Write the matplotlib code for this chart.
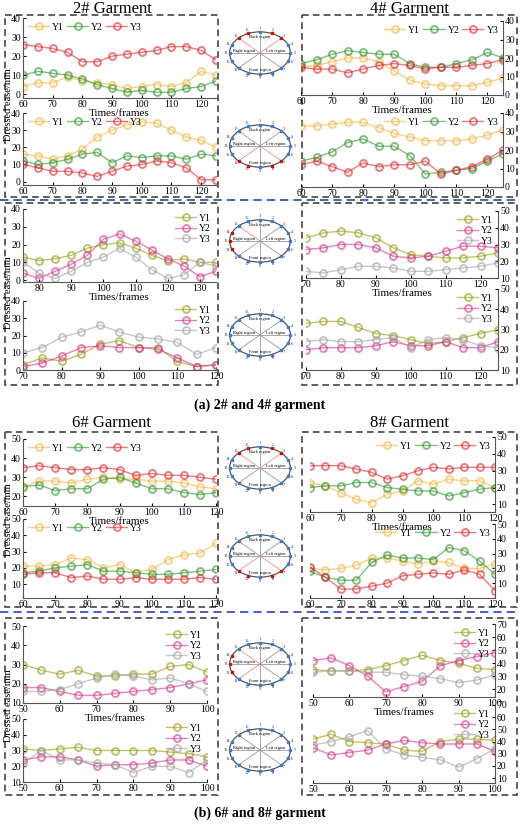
import numpy as np
import matplotlib
matplotlib.use("Agg")
import matplotlib.pyplot as plt
from matplotlib.patches import Rectangle, Ellipse

plt.rcParams['font.family'] = ['Liberation Serif', 'DejaVu Serif']

W, H = 520, 824
fig = plt.figure(figsize=(W/100, H/100), dpi=100)

def ax_px(x0, y0, x1, y1, **kw):
    return fig.add_axes([x0/W, 1-y1/H, (x1-x0)/W, (y1-y0)/H], **kw)

# ---------------- data ----------------
labels = ["Y1", "Y2", "Y3"]
col_a = ["#F2B540", "#2E962E", "#E0262C"]
col_b = ["#9A9A16", "#D8338A", "#A3A3A3"]

g2_top_x = np.arange(60, 126, 5)
g2_top = [[4,6,6,9,7,6,5,3,4,5,4,6,12,10],
          [10,12,11,10,8,5,3,1,2,1,1,3,4,7],
          [26,25,24,22,17,17,20,21,22,23,25,25,23,18]]
g2_bot = [[16,15,13,15,19,26,30,33,35,34,30,26,24,20],
          [12,10,11,13,16,17,11,15,14,15,15,13,16,15],
          [10,8,6,6,5,3,6,9,10,12,11,8,1,1]]
g4_top = [[15,16,18,20,20,18,13,8,6,5,5,5,7,9],
          [17,19,22,24,23,22,22,17,15,15,17,19,23,20],
          [15,14,14,12,14,16,17,16,14,15,15,16,17,19]]
g4_bot = [[33,33,34,35,35,32,29,27,25,25,25,26,28,31],
          [14,16,19,24,26,22,22,17,7,8,9,10,14,18],
          [12,14,11,8,13,11,12,12,14,7,9,11,15,20]]
g2b_top_x = np.arange(75, 136, 5)
g2b_top = [[13,11,12,14,18,20,21,18,14,11,12,10,10],
           [4,1,5,9,14,23,26,22,17,12,8,2,5],
           [10,4,1,5,10,13,18,13,6,1,3,10,8]]
g2b_bot_x = np.arange(70, 121, 5)
g2b_bot = [[3,7,5,9,15,17,13,13,5,2,3],
           [2,4,8,13,14,13,13,12,7,2,3],
           [10,13,19,22,26,22,19,18,16,9,13]]
g4b_x = np.arange(70, 126, 5)
g4b_top = [[34,37,38,37,34,28,24,23,22,22,23,25],
           [27,28,30,30,28,23,22,23,26,29,29,28],
           [14,13,15,17,17,16,14,14,15,16,17,19]]
g4b_bot = [[33,34,34,31,28,27,25,23,24,26,28,30],
           [20,21,21,21,22,24,22,22,24,21,21,24],
           [24,25,24,24,25,26,21,25,26,25,22,21]]
g6_x = np.arange(60, 121, 5)
g6_top = [[25,28,28,27,29,30,29,29,28,28,27,25,24],
          [25,26,23,24,24,29,30,27,24,24,22,21,22],
          [35,36,35,34,34,35,34,31,32,31,31,30,29]]
g6_bot = [[21,21,22,26,25,20,22,17,19,25,28,29,35],
          [17,18,20,21,22,18,18,17,16,16,17,18,19],
          [16,17,17,14,15,13,13,14,13,13,13,14,13]]
g8_top = [[23,21,17,13,11,16,18,24,22,25,24,24,20],
          [20,21,21,23,23,20,19,18,18,15,17,19,20],
          [33,33,33,31,29,25,27,30,32,31,32,32,32]]
g8_bot = [[20,19,20,22,27,27,25,23,25,24,20,20,23],
          [18,14,12,12,24,29,27,27,26,34,32,25,16],
          [21,14,6,6,8,10,15,16,17,16,19,16,5]]
g6b_x = np.arange(50, 101, 5)
g6b_top = [[30,27,25,27,24,24,25,25,29,30,26],
           [18,18,16,14,14,15,16,17,18,20,22],
           [16,16,17,20,23,25,24,22,23,20,16]]
g6b_bot = [[31,30,31,32,30,30,30,30,29,28,26],
           [24,26,26,24,20,21,21,22,24,24,20],
           [22,30,24,24,22,21,16,20,20,16,24]]
g8b_top = [[35,34,34,35,38,42,46,42,40,36,35],
           [42,44,38,30,18,22,26,38,42,45,48],
           [33,34,34,33,33,31,30,28,25,27,31]]
g8b_bot = [[42,46,40,39,38,33,32,40,42,42,41],
           [35,29,31,33,38,41,39,38,38,38,32],
           [37,40,44,49,34,29,27,25,19,26,34]]

# ---------------- helpers ----------------
def panel(box, x, ys, cols, xlim, ylim, yticks, right=False, leg='h', legloc='upper left', xlabel=False):
    ax = ax_px(*box)
    for y, c, l in zip(ys, cols, labels):
        ax.plot(x, y, '-', color=c, lw=1.0, alpha=0.6, marker='o', ms=5,
                mfc='none', mec=c, mew=1.4, label=l)
    ax.set_xlim(*xlim); ax.set_ylim(*ylim)
    ax.set_yticks(yticks)
    ax.set_xticks(np.arange(int(np.ceil(xlim[0]/10))*10, xlim[1]+1, 10))
    ax.patch.set_alpha(0)
    ax.spines['top'].set_visible(False)
    if right:
        ax.spines['left'].set_visible(False)
        ax.yaxis.tick_right()
    else:
        ax.spines['right'].set_visible(False)
    for s in ax.spines.values():
        s.set_color('#555555'); s.set_linewidth(0.8)
    ax.tick_params(labelsize=7, length=2, direction='in', pad=1.5)
    if leg == 'h':
        ax.legend(loc=legloc, ncol=3, fontsize=7, frameon=False, handlelength=2.2,
                  columnspacing=0.3, handletextpad=0.3, borderaxespad=0.1)
    else:
        ax.legend(loc=legloc, ncol=1, fontsize=7, frameon=False, handlelength=2.2,
                  handletextpad=0.3, labelspacing=0.15, borderaxespad=0.1)
    if xlabel:
        ax.set_xlabel("Times/frames", fontsize=8, labelpad=0)
    return ax

bg = fig.add_axes([0, 0, 1, 1]); bg.set_xlim(0, W); bg.set_ylim(H, 0); bg.axis('off')

def dbox(x0, y0, x1, y1):
    bg.add_patch(Rectangle((x0, y0), x1-x0, y1-y0, fill=False, ls=(0, (4, 2.5)), lw=1.2, ec='#444444'))

for b in [(5,15,218,197),(302,15,517,197),(5,203,218,385),(302,203,517,385),
          (5,432,218,607),(302,432,517,607),(5,618,218,795),(302,618,517,795)]:
    dbox(*b)
for yy in (200, 612):
    bg.plot([0, 520], [yy, yy], color='#2A3FC8', ls=(0, (5, 3)), lw=1.2)

for t, x, y in [("2# Garment", 112, 9), ("4# Garment", 410, 9), ("6# Garment", 112, 423), ("8# Garment", 410, 423)]:
    bg.text(x, y, t, ha='center', va='center', fontsize=12)
bg.text(260, 405, "(a) 2# and 4# garment", ha='center', va='center', fontsize=10, fontweight='bold')
bg.text(260, 813, "(b) 6# and 8# garment", ha='center', va='center', fontsize=10, fontweight='bold')
for y in (105, 293, 520, 706):
    bg.text(9, y, "Dressed ease/mm", rotation=90, ha='center', va='center', fontsize=7.5)

# ---------------- panels ----------------
panel((23,18,216,98), g2_top_x, g2_top, col_a, (60,125), (-2,40), range(0,41,10), xlabel=True)
panel((23,113,216,185), g2_top_x, g2_bot, col_a, (60,125), (-2,40), range(0,41,10))
panel((301,21,503,95), g2_top_x, g4_top, col_a, (60,125), (0,40), range(0,41,10), right=True, legloc='upper right', xlabel=True)
panel((301,113,503,187), g2_top_x, g4_bot, col_a, (60,125), (0,40), range(0,41,10), right=True, legloc='upper right')

panel((23,209,216,282), g2b_top_x, g2b_top, col_b, (75,135), (-1,40), range(0,41,10), leg='v', legloc='upper right', xlabel=True)
panel((23,301,216,370), g2b_bot_x, g2b_bot, col_b, (70,120), (0,40), range(0,41,10), leg='v', legloc='upper right')
panel((306,211,498,278), g4b_x, g4b_top, col_b, (70,125), (10,50), range(10,51,10), right=True, leg='v', legloc='upper right', xlabel=True)
panel((306,289,498,370), g4b_x, g4b_bot, col_b, (70,125), (10,50), range(10,51,10), right=True, leg='v', legloc='upper right')

panel((23,439,216,506), g6_x, g6_top, col_a, (60,120), (15,50), range(20,51,10), xlabel=True)
panel((23,519,216,598), g6_x, g6_bot, col_a, (60,120), (1.5,50), range(10,51,10))
panel((310,437,495,512), g6_x, g8_top, col_a, (60,120), (5.5,50), range(10,51,10), right=True, legloc='upper right', xlabel=True)
panel((310,524,495,598), g6_x, g8_bot, col_a, (60,120), (0,50), range(10,51,10), right=True, legloc='upper right')

panel((23,626,207,703), g6b_x, g6b_top, col_b, (50,100), (10,50), range(10,51,10), leg='v', legloc='upper right', xlabel=True)
panel((23,719,207,782), g6b_x, g6b_bot, col_b, (50,100), (10,50), range(10,51,10), leg='v', legloc='upper right')
panel((313,624,495,697), g6b_x, g8b_top, col_b, (50,100), (14,70), range(20,71,10), right=True, leg='v', legloc='upper right', xlabel=True)
panel((313,705,495,783), g6b_x, g8b_bot, col_b, (50,100), (6,70), range(10,71,10), right=True, leg='v', legloc='upper right')

# ---------------- ellipse diagrams ----------------
def ellipse_diag(cx, cy, red, pink):
    ax = ax_px(cx-40, cy-33, cx+40, cy+33)
    ax.set_xlim(-1.25, 1.25); ax.set_ylim(-1.03, 1.03); ax.axis('off')
    a, b = 0.95, 0.66
    ax.add_patch(Ellipse((0, 0), 2*a, 2*b, fill=False, ec='#555555', lw=0.9))
    ang = np.deg2rad(90 - np.arange(16)*22.5)
    px, py = a*np.cos(ang), b*np.sin(ang)
    for k in (0, 2, 4, 6, 8, 10, 12, 14):
        c = '#F08C8C' if (k+1) in pink else '#999999'
        ax.plot([0, px[k]], [0, py[k]], color=c, lw=0.6)
    for k in range(16):
        c = '#D01010' if (k+1) in red else '#3A7BD5'
        ax.plot(px[k], py[k], 's', ms=1.6, color=c)
        ax.text(1.13*px[k], 1.16*py[k], str(k+1), fontsize=3.2, ha='center', va='center', color='#333333')
    ax.text(0, 0.48, "Back region", fontsize=3.2, ha='center')
    ax.text(0, -0.55, "Front region", fontsize=3.2, ha='center')
    ax.text(-0.5, 0.03, "Right region", fontsize=3.2, ha='center')
    ax.text(0.5, 0.03, "Left region", fontsize=3.2, ha='center')

ellipse_diag(260, 53, [15, 16, 2, 3], [15, 3])
ellipse_diag(260, 146, [11, 10, 8, 7], [11, 7])
ellipse_diag(260, 241, [14, 13, 12], [15, 11])
ellipse_diag(260, 335, [], [])
ellipse_diag(260, 468, [15, 16, 2, 3], [15, 3])
ellipse_diag(260, 556, [11, 10, 8, 7], [11, 7])
ellipse_diag(260, 664, [14, 13, 12], [15, 11])
ellipse_diag(260, 750, [], [])

fig.savefig("out.png", dpi=100)
